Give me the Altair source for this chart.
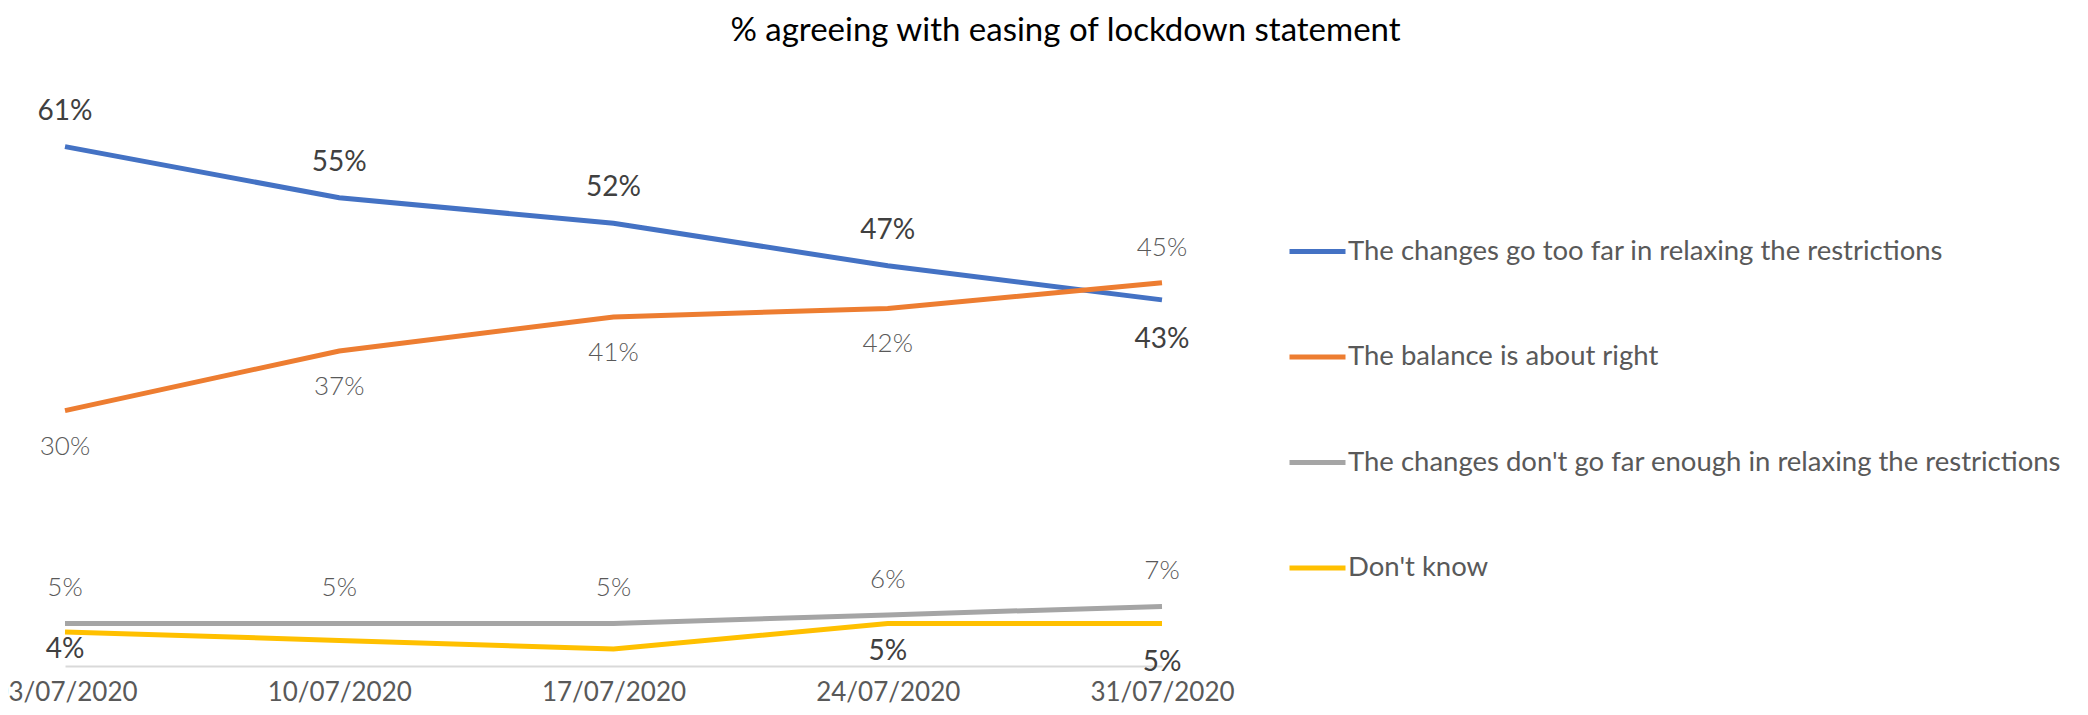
import altair as alt
import pandas as pd

dates = ["03/07/2020", "10/07/2020", "17/07/2020", "24/07/2020", "31/07/2020"]
series = [
    "The changes go too far in relaxing the restrictions",
    "The balance is about right",
    "The changes don't go far enough in relaxing the restrictions",
    "Don't know",
]
too_far = [61, 55, 52, 47, 43]
about_right = [30, 37, 41, 42, 45]
not_enough = [5, 5, 5, 6, 7]
dont_know = [4, 3, 2, 5, 5]

# which data labels are shown, and where each sits relative to its point
too_far_place = ["above", "above", "above", "above", "below_far"]
about_right_place = ["below", "below", "below", "below", "above"]
not_enough_place = ["above", "above", "above", "above", "above"]
dont_know_place = ["below_near", "none", "none", "below_mid", "below_far"]

colors = ["#4472C4", "#ED7D31", "#A5A5A5", "#FFC000"]
FONT = "Lato"

rows = []
for name, vals, places in zip(
    series,
    [too_far, about_right, not_enough, dont_know],
    [too_far_place, about_right_place, not_enough_place, dont_know_place],
):
    for d, v, p in zip(dates, vals, places):
        rows.append({"date": d, "series": name, "value": v, "label": f"{v}%", "place": p})
df = pd.DataFrame(rows)

x = alt.X(
    "date:O",
    sort=dates,
    scale=alt.Scale(type="point", padding=0),
    axis=alt.Axis(
        title=None, labelAngle=0, labelFontSize=26, labelColor="#595959", labelFont=FONT,
        domainColor="#D9D9D9", domainWidth=2, ticks=False, labelPadding=13,
        labelOverlap=False, grid=False,
    ),
)
y = alt.Y("value:Q", scale=alt.Scale(domain=[0, 70]), axis=None)

lines = alt.Chart(df).mark_line(strokeWidth=5).encode(
    x=x,
    y=y,
    color=alt.Color(
        "series:N",
        scale=alt.Scale(domain=series, range=colors),
        sort=series,
        legend=alt.Legend(
            orient="none", legendX=1222, legendY=151, title=None,
            symbolType="stroke", symbolStrokeWidth=5, symbolSize=3136,
            labelFontSize=27.5, labelColor="#595959", labelFont=FONT,
            rowPadding=61.5, labelOffset=0, labelLimit=900,
        ),
    ),
)

# label style per series: font size, colour, weight
style = {
    series[0]: (28, "#404040", "normal"),
    series[1]: (26, "#595959", 300),
    series[2]: (26, "#595959", 300),
    series[3]: (28, "#404040", "normal"),
}
place_dy = {"above": -35, "below": 36, "below_near": 18, "below_mid": 29, "below_far": 40}

layers = [lines]
for name, (fs, col, fw) in style.items():
    for place, dy in place_dy.items():
        layers.append(
            alt.Chart(df)
            .transform_filter((alt.datum.series == name) & (alt.datum.place == place))
            .mark_text(fontSize=fs, color=col, dy=dy, font=FONT, fontWeight=fw)
            .encode(x=x, y=y, text="label:N")
        )

chart = (
    alt.layer(*layers)
    .properties(
        width=1097,
        height=596,
        padding={"left": 57, "top": 62, "right": 918, "bottom": 41},
        autosize=alt.AutoSizeParams(type="none"),
        title=alt.TitleParams(
            "% agreeing with easing of lockdown statement",
            fontSize=33, font=FONT, fontWeight="normal", color="#000000",
            anchor="middle", dx=452, offset=22,
        ),
    )
    .configure(background="white", view=alt.ViewConfig(stroke="transparent", strokeWidth=0))
)

chart.save("out.html", embed_options={"renderer": "svg", "actions": False})
